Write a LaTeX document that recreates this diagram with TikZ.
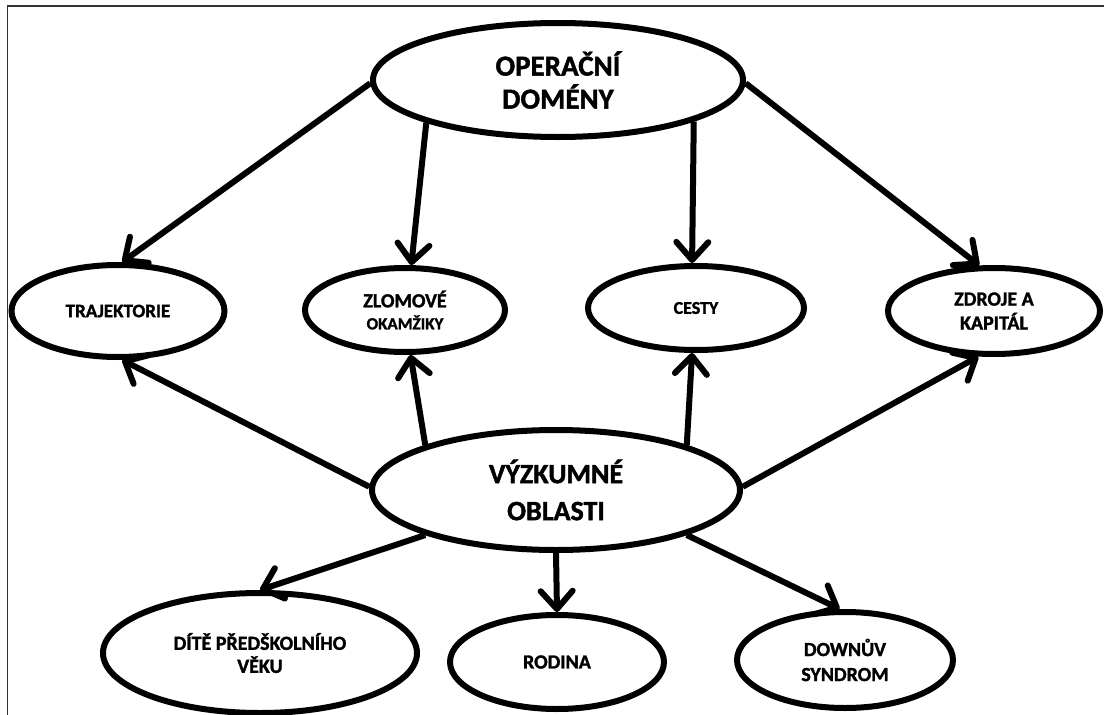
\documentclass[tikz,border=0pt]{standalone}
\usepackage{fontspec}
\setmainfont{Carlito}[BoldFeatures={FakeBold=1.5}]
\usetikzlibrary{shapes.geometric,arrows.meta}
\begin{document}
\begin{tikzpicture}[x=1pt,y=-1pt,
  el/.style={ellipse,draw,line width=6pt,inner sep=0pt,align=center},
  arr/.style={line width=6pt,-{Straight Barb[length=18pt,width=32pt,round]}},
  bigtxt/.style={font={\bfseries\fontsize{29}{33}\selectfont}}]
\useasboundingbox (0,0) rectangle (1104,715);
\draw[line width=1.5pt,black!80] (7.5,715) -- (7.5,6) -- (1104,6);
% central nodes
\node[el,bigtxt,minimum width=370pt,minimum height=114pt] (op) at (558,80) {OPERAČNÍ\\DOMÉNY};
\node[el,minimum width=368pt,minimum height=120pt,font={\bfseries\fontsize{28}{37}\selectfont}] (vo) at (556,490) {VÝZKUMNÉ\\OBLASTI};
% middle row
\node[el,minimum width=213pt,minimum height=92pt,font={\bfseries\fontsize{19}{22}\selectfont}] (tr) at (118,311) {TRAJEKTORIE};
\node[el,minimum width=200pt,minimum height=84pt,font={\bfseries\fontsize{20}{22}\selectfont}] (zl) at (405,310) {ZLOMOVÉ\\{\fontsize{17}{22}\selectfont OKAMŽIKY}};
\node[el,minimum width=216pt,minimum height=84pt,font={\bfseries\fontsize{18}{20}\selectfont}] (ce) at (696,308) {CESTY};
\node[el,minimum width=212pt,minimum height=86pt,font={\bfseries\fontsize{20}{24}\selectfont}] (zd) at (994,311) {ZDROJE A\\KAPITÁL};
% bottom row
\node[el,minimum width=314pt,minimum height=120pt,font={\bfseries\fontsize{20}{23}\selectfont}] (di) at (260,653) {DÍTĚ PŘEDŠKOLNÍHO\\VĚKU};
\node[el,minimum width=214pt,minimum height=94pt,font={\bfseries\fontsize{20}{23}\selectfont}] (ro) at (557,662) {RODINA};
\node[el,minimum width=216pt,minimum height=96pt,font={\bfseries\fontsize{20}{25}\selectfont}] (ds) at (845,660) {DOWNŮV\\SYNDROM};
% arrows from OPERAČNÍ DOMÉNY
\draw[arr] (op.181) -- (tr.85);
\draw[arr] (op.198) -- (zl.82);
\draw[arr] (op.343) -- (ce.95);
\draw[arr] (op.359) -- (zd.108);
% arrows from VÝZKUMNÉ OBLASTI
\draw[arr] (vo.179) -- (tr.275);
\draw[arr] (vo.161) -- (zl.277);
\draw[arr] (vo.19) -- (ce.265);
\draw[arr] (vo.1) -- (zd.251);
\draw[arr] (vo.199) -- (di.90);
\draw[arr] (vo.270) -- (ro.90);
\draw[arr] (vo.341) -- (ds.96);
\end{tikzpicture}
\end{document}
